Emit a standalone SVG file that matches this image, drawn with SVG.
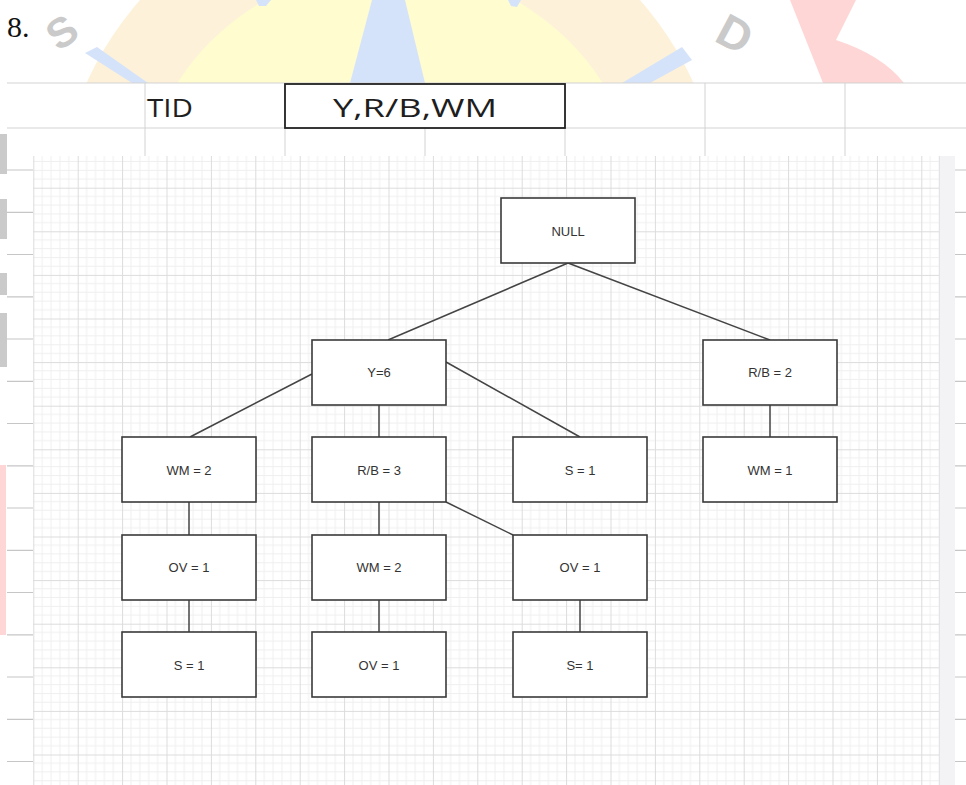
<svg xmlns="http://www.w3.org/2000/svg" width="966" height="785" viewBox="0 0 966 785">
  <style>
    .sheet { stroke: #d3d3d3; stroke-width: 1; }
    .tick { stroke: #c6c6c6; stroke-width: 1.2; }
    .node rect { fill: #ffffff; stroke: #3a3a3a; stroke-width: 1.6; }
    .node text { font-family: "Liberation Sans", Arial, sans-serif; font-size: 13px; fill: #333333; text-anchor: middle; dominant-baseline: central; }
    .edge { stroke: #444444; stroke-width: 1.5; fill: none; }
    .wm-letter { font-family: "Liberation Sans", Arial, sans-serif; font-weight: bold; fill: #cacaca; text-anchor: middle; dominant-baseline: central; }
    .cell { font-family: "Open Sans", "Liberation Sans", sans-serif; font-size: 25px; fill: #1e1e1e; }
  </style>
  <defs>
    <pattern id="grid" patternUnits="userSpaceOnUse" x="33.3" y="144.1" width="44.4" height="43.6">
      <path d="M8.88 0V43.6M17.76 0V43.6M26.64 0V43.6M35.52 0V43.6M0 8.72H44.4M0 17.44H44.4M0 26.16H44.4M0 34.88H44.4" stroke="#efefef" stroke-width="1" fill="none"/>
      <path d="M0.5 0V43.6M0 0.5H44.4" stroke="#dcdcdc" stroke-width="1" fill="none"/>
    </pattern>
  </defs>

  <!-- page -->
  <rect x="0" y="0" width="966" height="785" fill="#ffffff"/>

  <!-- faint logo behind the page content -->
  <g id="watermark">
    <circle cx="390" cy="220" r="333" fill="#fdf2d9"/>
    <circle cx="390" cy="220" r="253" fill="#fffcd0"/>
    <polygon points="350,83 425,83 405,0 372,0" fill="#d5e3fa"/>
    <polygon points="85,53 97,47 148,83 132,83" fill="#d5e3fa"/>
    <polygon points="682,47 692,60 650,83 622,83" fill="#d5e3fa"/>
    <polygon points="256,0 271,0 266,6 259,6" fill="#d5e3fa"/>
    <polygon points="508,0 521,0 517,7 511,6" fill="#d5e3fa"/>
    <path d="M790,0 L856,0 L836,40 Q882,55 904,83 L823,83 Z" fill="#ffd6d6"/>
    <text class="wm-letter" font-size="42" transform="translate(62,32) rotate(-35)">S</text>
    <text class="wm-letter" font-size="46" transform="translate(735,34) rotate(28)">D</text>
    <rect x="0" y="134" width="7" height="40" fill="#cacaca"/>
    <rect x="0" y="199" width="7" height="40" fill="#cacaca"/>
    <rect x="0" y="273" width="7" height="22" fill="#cacaca"/>
    <rect x="0" y="313" width="7" height="54" fill="#cacaca"/>
    <rect x="0" y="465" width="6" height="170" fill="#ffd6d6"/>
  </g>

  <!-- item number -->
  <text x="7" y="37" font-family="'Liberation Serif', 'Times New Roman', serif" font-size="30" fill="#111111">8.</text>

  <!-- spreadsheet area -->
  <g id="sheet">
    <rect x="7" y="83" width="959" height="702" fill="#ffffff"/>
    <line class="sheet" x1="7" y1="83" x2="966" y2="83" stroke-width="2" stroke="#c9c9c9"/>
    <line class="sheet" x1="7" y1="128" x2="966" y2="128"/>
    <g class="sheet">
      <line x1="145" y1="83" x2="145" y2="157"/>
      <line x1="285" y1="83" x2="285" y2="157"/>
      <line x1="425" y1="83" x2="425" y2="157"/>
      <line x1="565" y1="83" x2="565" y2="157"/>
      <line x1="705" y1="83" x2="705" y2="157"/>
      <line x1="845" y1="83" x2="845" y2="157"/>
    </g>
    <g class="tick">
      <path d="M7 170H33M7 212.3H33M7 254.5H33M7 296.8H33M7 339H33M7 381.3H33M7 423.5H33M7 465.8H33M7 508H33M7 550.3H33M7 592.5H33M7 634.8H33M7 677H33M7 719.3H33M7 761.5H33"/>
      <path d="M955 170H966M955 212.3H966M955 254.5H966M955 296.8H966M955 339H966M955 381.3H966M955 423.5H966M955 465.8H966M955 508H966M955 550.3H966M955 592.5H966M955 634.8H966M955 677H966M955 719.3H966M955 761.5H966"/>
    </g>
    <rect x="285" y="84" width="280" height="44" fill="#ffffff" stroke="#222222" stroke-width="1.8"/>
    <text class="cell" x="147" y="117" textLength="46" lengthAdjust="spacingAndGlyphs">TID</text>
    <text class="cell" x="333" y="117" textLength="164" lengthAdjust="spacingAndGlyphs">Y,R/B,WM</text>
  </g>

  <!-- drawing canvas with grid -->
  <rect x="33" y="156" width="906" height="629" fill="#ffffff"/>
  <rect x="33" y="156" width="906" height="629" fill="url(#grid)"/>
  <rect x="939" y="156" width="16" height="629" fill="#f3f3f5"/>
  <line x1="939.5" y1="156" x2="939.5" y2="785" stroke="#e4e4e8" stroke-width="1"/>

  <!-- connectors -->
  <g id="edges">
    <line class="edge" x1="568" y1="263" x2="388" y2="340"/>
    <line class="edge" x1="568" y1="263" x2="770" y2="340"/>
    <line class="edge" x1="312" y1="374" x2="190" y2="437"/>
    <line class="edge" x1="379" y1="405" x2="379" y2="437"/>
    <line class="edge" x1="446" y1="362" x2="580" y2="437"/>
    <line class="edge" x1="770" y1="405" x2="770" y2="437"/>
    <line class="edge" x1="189" y1="502" x2="189" y2="535"/>
    <line class="edge" x1="189" y1="600" x2="189" y2="632"/>
    <line class="edge" x1="379" y1="502" x2="379" y2="535"/>
    <line class="edge" x1="379" y1="600" x2="379" y2="632"/>
    <line class="edge" x1="446" y1="502" x2="513" y2="535"/>
    <line class="edge" x1="580" y1="600" x2="580" y2="632"/>
  </g>

  <!-- nodes -->
  <g id="null" class="node"><rect x="501" y="198" width="134" height="65"/><text x="568" y="231">NULL</text></g>
  <g id="y6" class="node"><rect x="312" y="340" width="134" height="65"/><text x="379" y="372">Y=6</text></g>
  <g id="rb2" class="node"><rect x="703" y="340" width="134" height="65"/><text x="770" y="372">R/B = 2</text></g>
  <g id="wm2a" class="node"><rect x="122" y="437" width="134" height="65"/><text x="189" y="470">WM = 2</text></g>
  <g id="rb3" class="node"><rect x="312" y="437" width="134" height="65"/><text x="379" y="470">R/B = 3</text></g>
  <g id="s1a" class="node"><rect x="513" y="437" width="134" height="65"/><text x="580" y="470">S = 1</text></g>
  <g id="wm1" class="node"><rect x="703" y="437" width="134" height="65"/><text x="770" y="470">WM = 1</text></g>
  <g id="ov1a" class="node"><rect x="122" y="535" width="134" height="65"/><text x="189" y="567">OV = 1</text></g>
  <g id="wm2b" class="node"><rect x="312" y="535" width="134" height="65"/><text x="379" y="567">WM = 2</text></g>
  <g id="ov1b" class="node"><rect x="513" y="535" width="134" height="65"/><text x="580" y="567">OV = 1</text></g>
  <g id="s1b" class="node"><rect x="122" y="632" width="134" height="65"/><text x="189" y="665">S = 1</text></g>
  <g id="ov1c" class="node"><rect x="312" y="632" width="134" height="65"/><text x="379" y="665">OV = 1</text></g>
  <g id="s1c" class="node"><rect x="513" y="632" width="134" height="65"/><text x="580" y="665">S= 1</text></g>
</svg>
